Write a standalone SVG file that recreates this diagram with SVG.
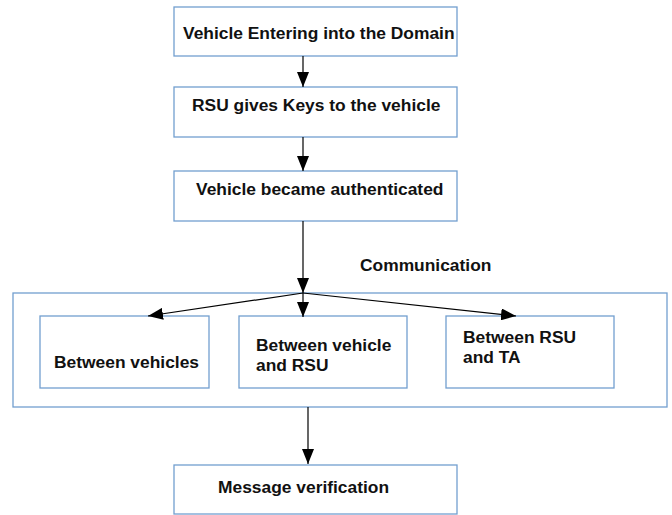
<svg xmlns="http://www.w3.org/2000/svg" width="672" height="515" viewBox="0 0 672 515">
<style>
.box{fill:#fff;stroke:#729fcf;stroke-width:1.3}
.t{font-family:"Liberation Sans",Arial,sans-serif;font-weight:bold;font-size:17.4px;fill:#111}
.c{stroke:#000;stroke-width:1.2;fill:none;marker-end:url(#ah)}
</style>
<defs>
<marker id="ah" markerUnits="userSpaceOnUse" markerWidth="16" markerHeight="12" refX="15" refY="6" orient="auto">
<path d="M0,0 L15,6 L0,12 Z" fill="#000"/>
</marker>
</defs>
<rect width="672" height="515" fill="#fff"/>
<g id="container">
<rect class="box" x="13" y="293" width="654" height="114"/>
</g>
<g id="n1"><rect class="box" x="174" y="7" width="283" height="49"/><text class="t" x="183" y="39">Vehicle Entering into the Domain</text></g>
<g id="n2"><rect class="box" x="174" y="87" width="283" height="50"/><text class="t" x="192" y="111">RSU gives Keys to the vehicle</text></g>
<g id="n3"><rect class="box" x="174" y="171" width="283" height="50"/><text class="t" x="196" y="195">Vehicle became authenticated</text></g>
<g id="label"><text class="t" x="360" y="271">Communication</text></g>
<g id="nA"><rect class="box" x="40" y="316" width="169" height="72"/><text class="t" x="54" y="368">Between vehicles</text></g>
<g id="nB"><rect class="box" x="239" y="316" width="168" height="72"/><text class="t" x="256" y="351">Between vehicle</text><text class="t" x="256" y="371">and RSU</text></g>
<g id="nC"><rect class="box" x="446" y="316" width="168" height="72"/><text class="t" x="463" y="343">Between RSU</text><text class="t" x="463" y="363">and TA</text></g>
<g id="n5"><rect class="box" x="174" y="465" width="283" height="49"/><text class="t" x="218" y="493">Message verification</text></g>
<g id="connectors">
<line class="c" x1="303" y1="56" x2="303" y2="87"/>
<line class="c" x1="303" y1="137" x2="303" y2="171"/>
<line class="c" x1="303" y1="221" x2="303" y2="293"/>
<line class="c" x1="303" y1="293" x2="148" y2="316"/>
<line class="c" x1="303" y1="293" x2="303" y2="317"/>
<line class="c" x1="303" y1="293" x2="516" y2="316"/>
<line class="c" x1="308" y1="407" x2="308" y2="464"/>
</g>
</svg>
